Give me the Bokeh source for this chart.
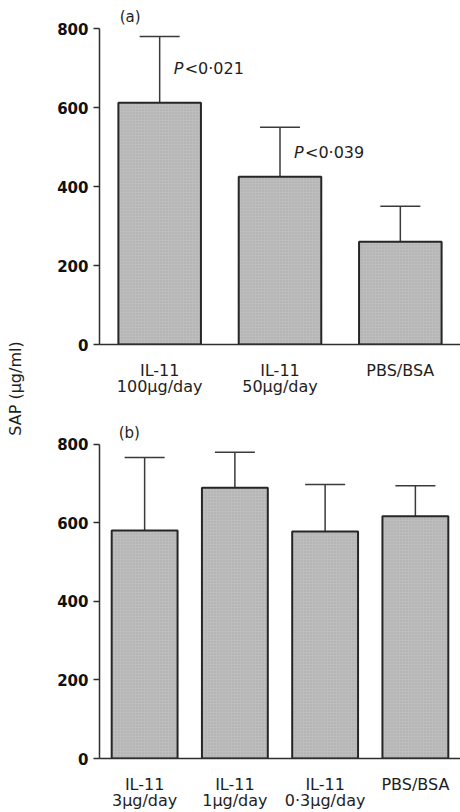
import math
from bokeh.plotting import figure
from bokeh.models import Range1d, FactorRange, Whisker, TeeHead, ColumnDataSource, FixedTicker
from bokeh.layouts import row, column
from bokeh.core.properties import value
from bokeh.embed import file_html
from bokeh.resources import INLINE

# ---- data ----
cats_a = ["IL-11\n100µg/day", "IL-11\n50µg/day", "PBS/BSA"]
mean_a = [612, 425, 260]
upper_a = [780, 550, 350]

cats_b = ["IL-11\n3µg/day", "IL-11\n1µg/day", "IL-11\n0·3µg/day", "PBS/BSA"]
mean_b = [581, 690, 578, 617]
upper_b = [767, 780, 698, 695]

y_ticks = [0, 200, 400, 600, 800]
p_labels = ["<0·021", "<0·039"]
p_cats = cats_a[:2]
p_y = [700, 487]

FONT = "DejaVu Sans"
TXT = "#1e1e1e"
AX = "#2e2e2e"
BAR_FILL = "#bdbdbd"


def panel(cats, mean, upper, height, y_end, left, bottom, bw, tag, tag_dx, standoff):
    src = ColumnDataSource(dict(x=cats, top=mean, upper=upper))
    p = figure(width=430, height=height,
               x_range=FactorRange(*cats, range_padding=0),
               y_range=Range1d(0, y_end),
               output_backend="svg", toolbar_location=None,
               min_border_left=left, min_border_right=0,
               min_border_top=0, min_border_bottom=bottom)
    p.outline_line_color = None
    p.grid.visible = False
    p.background_fill_color = "white"

    p.vbar(x="x", top="top", width=bw, source=src,
           fill_color=BAR_FILL, line_color="#262626", line_width=2,
           hatch_pattern="dot", hatch_color="#8c8c8c", hatch_scale=3,
           hatch_weight=0.8, hatch_alpha=0.45)
    w = Whisker(base="x", upper="upper", lower="top", source=src,
                line_color="#3a3a3a", line_width=1.5,
                upper_head=TeeHead(size=40, line_color="#3a3a3a", line_width=1.5),
                lower_head=None)
    p.add_layout(w)

    p.text(x=[cats[0]], y=[830], text=[tag], x_offset=tag_dx,
           text_align="left", text_baseline="middle",
           text_font=value(FONT), text_font_size="15px", text_color=TXT)

    ya = p.yaxis[0]
    ya.ticker = FixedTicker(ticks=y_ticks)
    ya.bounds = (0, 800)
    ya.major_label_text_font = FONT
    ya.major_label_text_font_style = "bold"
    ya.major_label_text_font_size = "15px"
    ya.major_label_text_color = "#111111"
    ya.major_tick_out = 6
    ya.major_tick_in = 0
    ya.minor_tick_line_color = None
    ya.axis_line_width = 1.5
    ya.axis_line_color = AX
    ya.major_tick_line_color = AX
    ya.major_tick_line_width = 1.5
    ya.major_label_standoff = 5

    xa = p.xaxis[0]
    xa.major_tick_line_color = None
    xa.minor_tick_line_color = None
    xa.axis_line_width = 1.5
    xa.axis_line_color = AX
    xa.major_label_text_font = FONT
    xa.major_label_text_font_size = "16px"
    xa.major_label_text_color = TXT
    xa.major_label_text_line_height = 0.85
    xa.major_label_standoff = standoff
    return p


pa = panel(cats_a, mean_a, upper_a, 400, 871, 67, 56, 0.686, "(a)", -40, 10)
pa.text(x=p_cats, y=p_y, text=["P", "P"], x_offset=14,
        text_align="left", text_baseline="middle",
        text_font=value(FONT), text_font_style="italic",
        text_font_size="16px", text_color=TXT)
pa.text(x=p_cats, y=p_y, text=p_labels, x_offset=25,
        text_align="left", text_baseline="middle",
        text_font=value(FONT), text_font_size="16px", text_color=TXT)

pb = panel(cats_b, mean_b, upper_b, 412, 912, 69, 53, 0.73, "(b)", -26, 10)

pl = figure(width=30, height=812, x_range=Range1d(0, 30), y_range=Range1d(0, 812),
            output_backend="svg", toolbar_location=None,
            min_border_left=0, min_border_right=0, min_border_top=0, min_border_bottom=0)
pl.axis.visible = False
pl.grid.visible = False
pl.outline_line_color = None
pl.text(x=[15], y=[424], text=["SAP (µg/ml)"], angle=math.pi / 2,
        text_align="center", text_baseline="middle",
        text_font=value(FONT), text_font_size="16px", text_color=TXT)

layout = row(pl, column(pa, pb))
open("out.html", "w").write(file_html(layout, INLINE))
